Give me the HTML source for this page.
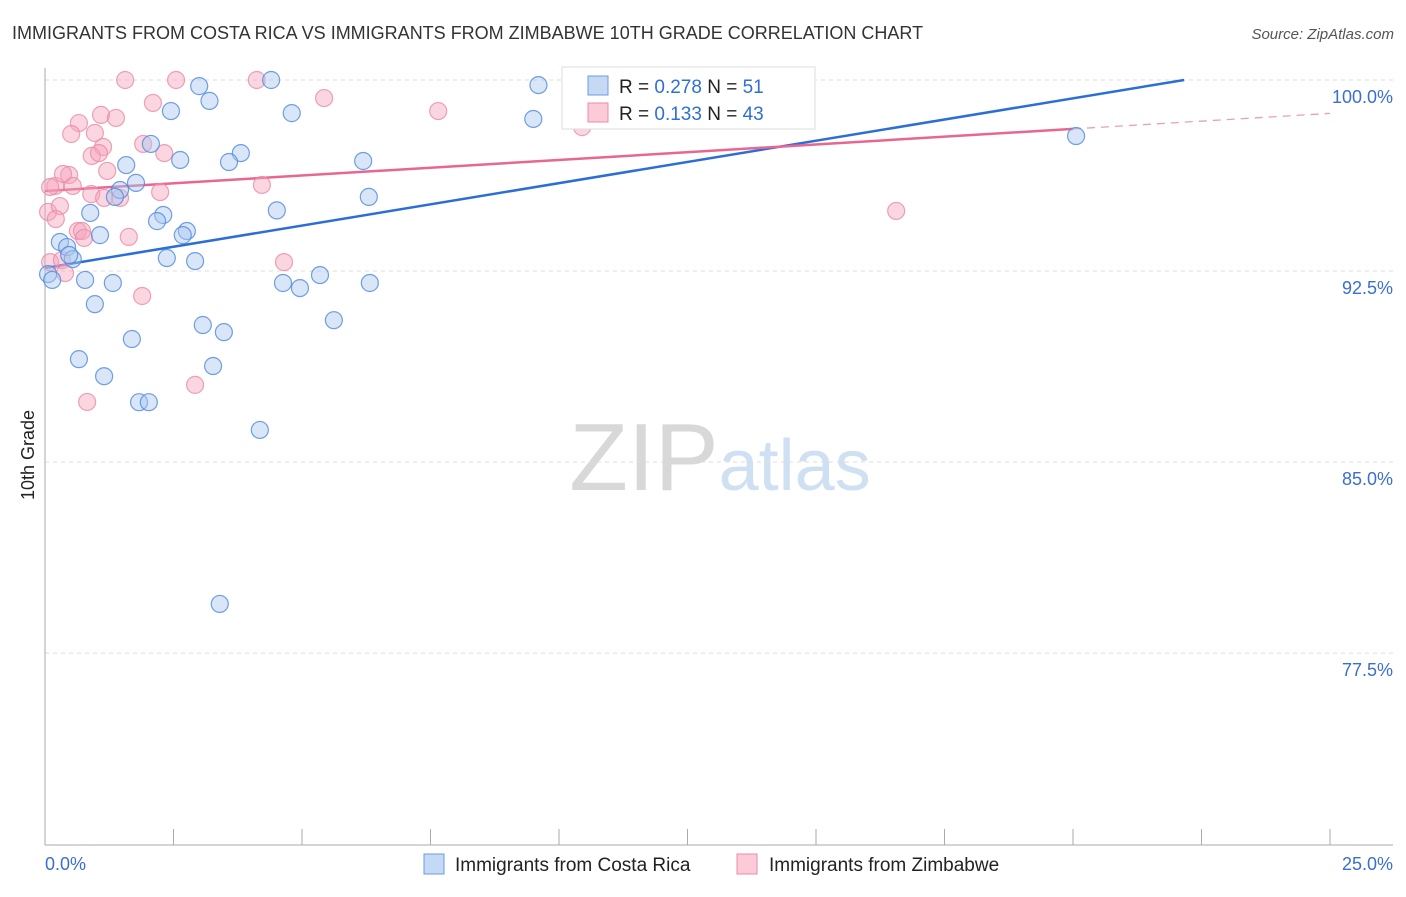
<!DOCTYPE html>
<html><head><meta charset="utf-8"><style>
body{margin:0;background:#fff;font-family:"Liberation Sans",sans-serif;}
svg text{font-family:"Liberation Sans",sans-serif;}
</style></head><body>
<svg width="1406" height="892" viewBox="0 0 1406 892">
<text x="12" y="39" font-size="18" fill="#333">IMMIGRANTS FROM COSTA RICA VS IMMIGRANTS FROM ZIMBABWE 10TH GRADE CORRELATION CHART</text>
<text x="1394" y="39" font-size="15" fill="#555" text-anchor="end" font-style="italic">Source: ZipAtlas.com</text>
<text x="720" y="490" font-size="96" fill="#ddd" text-anchor="middle" font-family="Liberation Serif"><tspan fill="#d8d8d8">ZIP</tspan><tspan fill="#cfe0f3" font-family="Liberation Sans" font-size="72">atlas</tspan></text>
<g id="grid"></g><g id="axes"></g><g id="lines"></g><g id="pts"></g>
<text x="34" y="455" font-size="18" fill="#222" text-anchor="middle" transform="rotate(-90 34 455)">10th Grade</text>
<g>
<rect x="562" y="67" width="253" height="62" fill="#fff" stroke="#ddd"/>
<rect x="588" y="76" width="20" height="19" fill="#c5d9f5" stroke="#6a9be0"/>
<rect x="588" y="103" width="20" height="19" fill="#fbcbd8" stroke="#ee8aaa"/>
<text x="619" y="93" font-size="19" fill="#222">R = <tspan fill="#2f6fd6">0.278</tspan>   N = <tspan fill="#2f6fd6">51</tspan></text>
<text x="619" y="120" font-size="19" fill="#222">R = <tspan fill="#2f6fd6">0.133</tspan>   N = <tspan fill="#2f6fd6">43</tspan></text>
</g>
<g>
<rect x="424" y="854" width="20" height="20" fill="#c5d9f5" stroke="#6a9be0"/>
<text x="455" y="871" font-size="19" fill="#222">Immigrants from Costa Rica</text>
<rect x="737" y="854" width="20" height="20" fill="#fbcbd8" stroke="#ee8aaa"/>
<text x="769" y="871" font-size="19" fill="#222">Immigrants from Zimbabwe</text>
</g>
</svg>
<script>
const blueX=[3.0,4.4,9.6,3.2,2.45,4.8,9.5,2.06,3.81,3.58,2.63,1.58,6.19,1.77,1.46,1.36,6.3,0.88,2.3,2.18,4.51,2.76,2.68,1.07,0.29,0.43,0.54,0.47,0.06,0.14,0.78,1.32,2.37,2.92,4.63,4.96,5.35,6.32,0.97,3.07,3.48,1.69,5.62,0.66,3.27,1.15,1.83,2.02,4.18,3.4,20.06];
const blueY=[99.76,100,99.8,99.18,98.78,98.7,98.47,97.49,97.13,96.78,96.86,96.66,96.82,95.96,95.68,95.41,95.41,94.78,94.7,94.46,94.88,94.07,93.91,93.91,93.64,93.44,92.97,93.13,92.38,92.15,92.15,92.03,93.01,92.89,92.03,91.83,92.34,92.03,91.2,90.38,90.1,89.83,90.57,89.04,88.77,88.37,87.35,87.35,86.26,79.43,97.8];
const pinkX=[1.56,2.55,4.12,2.1,1.09,1.38,0.66,0.51,0.97,5.43,7.65,10.45,1.91,2.32,1.13,0.91,1.05,1.21,0.47,0.2,0.54,0.1,0.9,1.46,4.22,2.24,0.06,0.29,0.21,0.64,0.72,0.76,1.63,0.1,0.33,0.39,4.65,1.89,2.92,0.82,16.56,1.15,0.35];
const pinkY=[100,100,100,99.1,98.63,98.51,98.31,97.88,97.92,99.29,98.78,98.15,97.49,97.13,97.37,97.02,97.13,96.43,96.27,95.84,95.84,95.8,95.52,95.37,95.88,95.6,94.82,95.05,94.54,94.07,94.07,93.8,93.84,92.85,92.93,92.42,92.85,91.52,88.03,87.36,94.86,95.37,96.31];
const yTicks=[100,92.5,85,77.5];
const yTickLabels=["100.0%","92.5%","85.0%","77.5%"];
const xEndLabels=["0.0%","25.0%"];
const blueTrend=[92.62,0.333];
const pinkTrend=[95.64,0.122];
const NS="http://www.w3.org/2000/svg";
const xs=v=>45+v*51.4, ys=v=>80+(100-v)*25.47;
function mk(tag,attrs,parent){const e=document.createElementNS(NS,tag);for(const k in attrs)e.setAttribute(k,attrs[k]);document.getElementById(parent).appendChild(e);return e;}
yTicks.forEach((t,i)=>{
 const g=mk('line',{x1:45,x2:1393,y1:ys(t),y2:ys(t),stroke:'#ddd','stroke-dasharray':'4 4'},'grid');
 
 
 const l=mk('text',{x:1393,y:ys(t)+23,'font-size':18,fill:'#3a6fd0','text-anchor':'end'},'grid');l.textContent=yTickLabels[i];
 
 
});
mk('line',{x1:45,x2:45,y1:68,y2:845,stroke:'#aaa'},'axes');
mk('line',{x1:45,x2:1393,y1:845,y2:845,stroke:'#aaa'},'axes');
for(let i=0;i<=10;i++){const t=mk('line',{x1:xs(i*2.5),x2:xs(i*2.5),y1:829,y2:845,stroke:'#aaa'},'axes');
 
 }
const a=mk('text',{x:45,y:870,'font-size':18,fill:'#3a6fd0'},'axes');a.textContent=xEndLabels[0];


const b=mk('text',{x:1393,y:870,'font-size':18,fill:'#3a6fd0','text-anchor':'end'},'axes');b.textContent=xEndLabels[1];


function drawPts(X,Y,fill,stroke,name){X.forEach((x,i)=>{const c=mk('circle',{cx:xs(x),cy:ys(Y[i]),r:8.5,fill:fill,'fill-opacity':0.45,stroke:stroke,'stroke-opacity':0.8,'stroke-width':1.2},'pts');
 
 });}
drawPts(pinkX,pinkY,'#f5a3bd','#ec89a9','point-zimbabwe');
drawPts(blueX,blueY,'#a8c8f0','#4f88dc','point-costa-rica');
const bxEnd=(100-blueTrend[0])/blueTrend[1];
const bl=mk('line',{x1:xs(0),y1:ys(blueTrend[0]),x2:xs(bxEnd),y2:ys(100),stroke:'#2b6fd6','stroke-width':2.5},'lines');


const pl=mk('line',{x1:xs(0),y1:ys(pinkTrend[0]),x2:xs(20),y2:ys(pinkTrend[0]+20*pinkTrend[1]),stroke:'#e8668f','stroke-width':2.5},'lines');


const pd=mk('line',{x1:xs(20),y1:ys(pinkTrend[0]+20*pinkTrend[1]),x2:xs(25),y2:ys(pinkTrend[0]+25*pinkTrend[1]),stroke:'#e8a0b8','stroke-width':1.3,'stroke-dasharray':'8 6'},'lines');


</script>
</body></html>
